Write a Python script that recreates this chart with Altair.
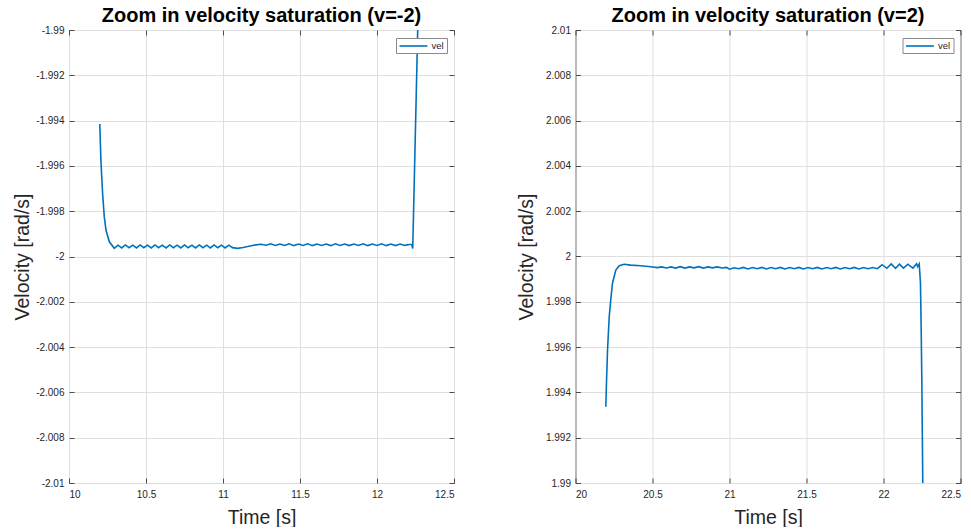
import altair as alt
import pandas as pd

# Velocity trace around the negative saturation (v = -2)
left_time = [
    10.200, 10.207, 10.218, 10.229, 10.240, 10.262, 10.294,
    10.318, 10.342, 10.366, 10.390, 10.414, 10.438, 10.462, 10.486,
    10.510, 10.534, 10.558, 10.582, 10.606, 10.630, 10.654, 10.678,
    10.702, 10.726, 10.750, 10.774, 10.798, 10.822, 10.846, 10.870,
    10.894, 10.918, 10.942, 10.966, 10.990, 11.014, 11.038, 11.062,
    11.095, 11.130, 11.160, 11.200, 11.247,
    11.28, 11.31, 11.34, 11.37, 11.40, 11.43, 11.46, 11.49, 11.52,
    11.55, 11.58, 11.61, 11.64, 11.67, 11.70, 11.73, 11.76, 11.79,
    11.82, 11.85, 11.88, 11.91, 11.94, 11.97, 12.00, 12.03, 12.06,
    12.09, 12.12, 12.15, 12.18, 12.21, 12.225, 12.232, 12.265,
]
left_vel = [
    -1.99415, -1.99574, -1.99720, -1.99824, -1.99883, -1.99935, -1.99964,
    -1.99950, -1.99962, -1.99949, -1.99961, -1.99950, -1.99962, -1.99949, -1.99961,
    -1.99950, -1.99962, -1.99949, -1.99961, -1.99950, -1.99962, -1.99949, -1.99961,
    -1.99950, -1.99962, -1.99949, -1.99961, -1.99950, -1.99962, -1.99949, -1.99961,
    -1.99950, -1.99962, -1.99949, -1.99961, -1.99950, -1.99962, -1.99950, -1.99961,
    -1.99964, -1.99960, -1.99956, -1.99950, -1.99946,
    -1.99950, -1.99944, -1.99951, -1.99945, -1.99951, -1.99944, -1.99952, -1.99945, -1.99951,
    -1.99944, -1.99952, -1.99945, -1.99951, -1.99945, -1.99952, -1.99944, -1.99951, -1.99945,
    -1.99952, -1.99945, -1.99951, -1.99944, -1.99952, -1.99945, -1.99951, -1.99944, -1.99952,
    -1.99945, -1.99952, -1.99945, -1.99951, -1.99947, -1.99946, -1.99965, -1.98980,
]

# Velocity trace around the positive saturation (v = 2)
right_time = [
    20.197, 20.201, 20.208, 20.219, 20.229, 20.240, 20.262, 20.284,
    20.316, 20.359, 20.424, 20.489, 20.532,
    20.56, 20.59, 20.62, 20.65, 20.68, 20.71, 20.74, 20.77, 20.80,
    20.83, 20.86, 20.89, 20.92, 20.95, 20.98, 21.00, 21.03, 21.06,
    21.09, 21.12, 21.15, 21.18, 21.21, 21.24, 21.27, 21.30, 21.33,
    21.36, 21.39, 21.42, 21.45, 21.48, 21.51, 21.54, 21.57, 21.60,
    21.63, 21.66, 21.69, 21.72, 21.75, 21.78, 21.81, 21.84, 21.87,
    21.90, 21.93, 21.96,
    21.991, 22.022, 22.050, 22.078, 22.104, 22.130, 22.158, 22.191,
    22.215, 22.222, 22.232, 22.240, 22.245, 22.249, 22.255, 22.257,
]
right_vel = [
    1.99337, 1.99440, 1.99587, 1.99734, 1.99808, 1.99882, 1.99940, 1.99959,
    1.99966, 1.99962, 1.99959, 1.99955, 1.99951,
    1.99954, 1.99949, 1.99954, 1.99949, 1.99955, 1.99949, 1.99954, 1.99950, 1.99955,
    1.99949, 1.99954, 1.99950, 1.99954, 1.99949, 1.99952, 1.99944, 1.99950, 1.99946,
    1.99952, 1.99945, 1.99951, 1.99946, 1.99952, 1.99945, 1.99951, 1.99946, 1.99952,
    1.99945, 1.99951, 1.99946, 1.99952, 1.99945, 1.99951, 1.99946, 1.99952, 1.99945,
    1.99951, 1.99946, 1.99952, 1.99945, 1.99951, 1.99946, 1.99952, 1.99945, 1.99951,
    1.99946, 1.99951, 1.99946,
    1.99964, 1.99948, 1.99967, 1.99948, 1.99966, 1.99949, 1.99966, 1.99949,
    1.99968, 1.99955, 1.99967, 1.99883, 1.99662, 1.99442, 1.99000, 1.98900,
]

left_x_ticks = [10, 10.5, 11, 11.5, 12, 12.5]
right_x_ticks = [20, 20.5, 21, 21.5, 22, 22.5]
left_y_ticks = [-2.01, -2.008, -2.006, -2.004, -2.002, -2.0,
                -1.998, -1.996, -1.994, -1.992, -1.99]
right_y_ticks = [1.99, 1.992, 1.994, 1.996, 1.998, 2.0,
                 2.002, 2.004, 2.006, 2.008, 2.01]

FONT = "Liberation Sans"
BLUE = "#0072BD"
INK = "#262626"
LABELS = "replace(format(datum.value, '.4~r'), '\u2212', '-')"
# short horizontal stroke drawn to the right of the symbol anchor
LEGEND_LINE = "M-1,0L5.2,0"


def panel(times, vels, xdom, ydom, xticks, yticks, title, ytitle_pad):
    df = pd.DataFrame({"t": times, "v": vels, "series": ["vel"] * len(times)})
    xs = alt.Scale(domain=xdom, nice=False, zero=False)
    ys = alt.Scale(domain=ydom, nice=False, zero=False)

    trace = alt.Chart(df).mark_line(strokeWidth=1.6, clip=True).encode(
        x=alt.X("t:Q", scale=xs, axis=alt.Axis(
            values=xticks, title="Time [s]", orient="bottom", offset=-5,
            tickSize=5, grid=True, labelPadding=6, titlePadding=9,
            labelExpr=LABELS)),
        y=alt.Y("v:Q", scale=ys, axis=alt.Axis(
            values=yticks, title="Velocity [rad/s]", orient="left", offset=-5,
            tickSize=5, grid=True, labelPadding=5, titlePadding=ytitle_pad,
            labelExpr=LABELS)),
        color=alt.Color("series:N",
                        scale=alt.Scale(domain=["vel"], range=[BLUE]),
                        legend=alt.Legend(
                            title=None, orient="none", legendX=327, legendY=8,
                            padding=2.5, strokeColor="#8a8a8a", fillColor="white",
                            symbolType=LEGEND_LINE, symbolSize=81,
                            symbolStrokeWidth=1.6, labelFontSize=9.5,
                            labelFont=FONT, labelColor=INK, labelOffset=22)),
    )

    # inward ticks on the top and right edges of the box
    frame = alt.Chart(df).mark_line(strokeOpacity=0, clip=True).encode(
        x=alt.X("t:Q", scale=xs, title=None, axis=alt.Axis(
            values=xticks, orient="top", offset=-5, tickSize=5,
            labels=False, grid=False)),
        y=alt.Y("v:Q", scale=ys, title=None, axis=alt.Axis(
            values=yticks, orient="right", offset=-5, tickSize=5,
            labels=False, grid=False)),
    )

    return alt.layer(trace, frame).resolve_axis(
        x="independent", y="independent"
    ).properties(
        width=385, height=453,
        title=alt.Title(title, fontSize=20, fontWeight="bold", font=FONT,
                        color="black", frame="group", anchor="middle", offset=-1),
    )


left = panel(left_time, left_vel, [10, 12.5], [-2.01, -1.99],
             left_x_ticks, left_y_ticks, "Zoom in velocity saturation (v=-2)", 3)
right = panel(right_time, right_vel, [20, 22.5], [1.99, 2.01],
              right_x_ticks, right_y_ticks, "Zoom in velocity saturation (v=2)", 9)

chart = alt.hconcat(left, right, spacing=60.5).resolve_scale(
    color="independent"
).configure(
    padding={"left": 12, "top": 5, "right": 0, "bottom": 0},
    background="white",
).configure_view(
    stroke=INK, strokeWidth=1,
).configure_axis(
    domain=False,
    labelFont=FONT, labelFontSize=10, labelColor=INK,
    tickColor=INK, tickWidth=0.8,
    gridColor="#dfdfdf", gridWidth=1,
    titleFont=FONT, titleFontSize=19.5, titleFontWeight="normal",
    titleColor=INK,
)

chart.save("out.html", embed_options={"renderer": "svg", "actions": False})
